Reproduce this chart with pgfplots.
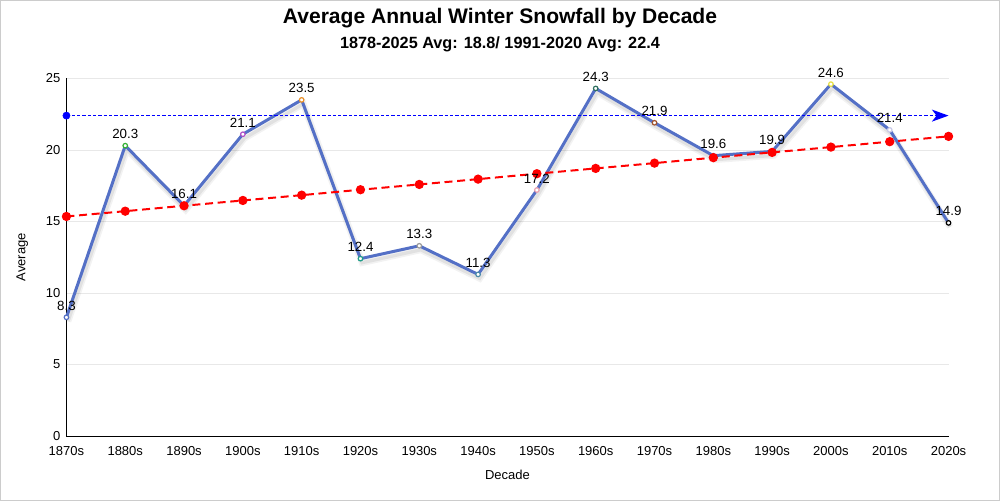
\documentclass[border=0pt]{standalone}
\usepackage{pgfplots}
\pgfplotsset{compat=1.18}
\usepackage{pgfplotstable}
\usepackage{fontspec}
\setmainfont{Liberation Sans}
\usetikzlibrary{arrows.meta}

\definecolor{lineblue}{HTML}{5470C6}
\definecolor{m0}{HTML}{5470C6}
\definecolor{m1}{HTML}{34B034}
\definecolor{m2}{HTML}{E05050}
\definecolor{m3}{HTML}{B050C8}
\definecolor{m4}{HTML}{E8902A}
\definecolor{m5}{HTML}{1F9E89}
\definecolor{m6}{HTML}{9A9A9A}
\definecolor{m7}{HTML}{4A8AA8}
\definecolor{m8}{HTML}{E8A0B0}
\definecolor{m9}{HTML}{2F6F5F}
\definecolor{m10}{HTML}{A0522D}
\definecolor{m11}{HTML}{8060A0}
\definecolor{m12}{HTML}{D06040}
\definecolor{m13}{HTML}{E8E040}
\definecolor{m14}{HTML}{C8C8E8}
\definecolor{m15}{HTML}{000000}

% decade index, average snowfall, marker class
\pgfplotstableread{
x  y     c
0  8.3   a
1  20.3  b
2  16.1  c
3  21.1  d
4  23.5  e
5  12.4  f
6  13.3  g
7  11.3  h
8  17.2  i
9  24.3  j
10 21.9  k
11 19.6  l
12 19.9  m
13 24.6  n
14 21.4  o
15 14.9  p
}\snow

% linear trend, one value per decade
\pgfplotstableread{
x  y
0  15.35
1  15.72
2  16.10
3  16.47
4  16.84
5  17.22
6  17.59
7  17.96
8  18.34
9  18.71
10 19.08
11 19.46
12 19.83
13 20.20
14 20.58
15 20.95
}\trend

\begin{document}
\begin{tikzpicture}
\draw[gray!40, line width=0.75pt] (0,0) rectangle (750pt,375pt);
\node[font=\bfseries\fontsize{15.8}{18}\selectfont] at (375pt,362pt) {Average Annual Winter Snowfall by Decade};
\node[font=\bfseries\fontsize{12.2}{14}\selectfont] at (375pt,342pt) {1878-2025 Avg: 18.8/ 1991-2020 Avg: 22.4};

\begin{axis}[
  at={(49.5pt,48pt)}, anchor=south west,
  scale only axis, width=662.25pt, height=268.5pt,
  xmin=0, xmax=15, ymin=0, ymax=25,
  xtick={0,...,15},
  xticklabels={1870s,1880s,1890s,1900s,1910s,1920s,1930s,1940s,1950s,1960s,1970s,1980s,1990s,2000s,2010s,2020s},
  ytick={0,5,...,25},
  axis x line*=bottom, axis y line*=left,
  axis line style={-, black, line width=0.75pt},
  major tick length=0pt,
  ymajorgrids, grid style={gray!18, line width=0.6pt},
  ticklabel style={font=\fontsize{9.75}{11}\selectfont},
  /pgf/number format/assume math mode=true,
  xticklabel style={yshift=-4.5pt},
  yticklabel style={xshift=-1pt},
  xlabel={Decade}, ylabel={Average},
  label style={font=\fontsize{9.75}{11}\selectfont},
  xlabel style={yshift=-4pt},
  ylabel style={yshift=6.5pt},
  clip=false,
]
% soft shadow under the main line
\addplot[black, opacity=0.05, line width=5pt, shift={(1.2pt,-3pt)}] table[x=x,y=y] {\snow};
\addplot[black, opacity=0.07, line width=2.5pt, shift={(1.2pt,-3pt)}] table[x=x,y=y] {\snow};
\addplot[lineblue, line width=2.25pt, line join=round] table[x=x,y=y] {\snow};
\addplot[
  scatter, only marks, mark=*, mark size=1.7pt,
  point meta=explicit symbolic,
  scatter/classes={
    a={draw=m0,fill=white}, b={draw=m1,fill=white}, c={draw=m2,fill=white},
    d={draw=m3,fill=white}, e={draw=m4,fill=white}, f={draw=m5,fill=white},
    g={draw=m6,fill=white}, h={draw=m7,fill=white}, i={draw=m8,fill=white},
    j={draw=m9,fill=white}, k={draw=m10,fill=white}, l={draw=m11,fill=white},
    m={draw=m12,fill=white}, n={draw=m13,fill=white}, o={draw=m14,fill=white},
    p={draw=m15,fill=white}},
  mark options={line width=0.9pt},
] table[x=x,y=y,meta=c] {\snow};

% trend
\addplot[red, line width=1.5pt, dash pattern=on 6pt off 3.5pt,
  mark=*, mark size=2.7pt, mark options={solid, fill=red, draw=red}] table[x=x,y=y] {\trend};

% 1991-2020 average
\addplot[blue, line width=0.8pt, dash pattern=on 2.5pt off 1.5pt,
  -{Stealth[length=12.5pt,width=9pt,inset=3.5pt]}] coordinates {(0,22.4) (15,22.4)};
\addplot[only marks, mark=*, mark size=2.7pt, blue] coordinates {(0,22.4)};

% value labels
\addplot[only marks, mark=none,
  nodes near coords={\pgfmathprintnumber[fixed,fixed zerofill,precision=1]{\pgfplotspointmeta}},
  nodes near coords style={font=\fontsize{10}{11}\selectfont, anchor=south, inner sep=1pt, yshift=4pt},
] table[x=x,y=y] {\snow};
\end{axis}
\end{tikzpicture}
\end{document}
